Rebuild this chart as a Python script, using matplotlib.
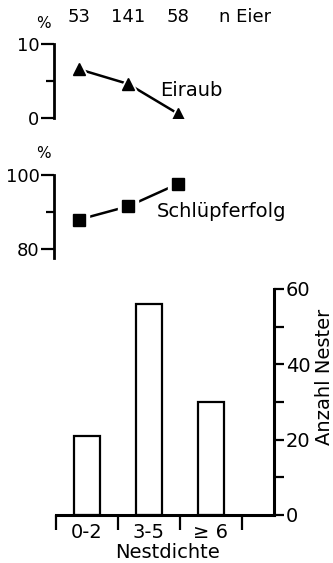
import matplotlib.pyplot as plt

# Daten
n_eier = ['53', '141', '58']
eiraub = [6.6, 4.6, 0.6]
schlupferfolg = [88.0, 91.6, 97.6]
nestdichte = ['0-2', '3-5', '≥ 6']
anzahl_nester = [21, 56, 30]

W, H = 333, 563
plt.rcParams['font.family'] = 'DejaVu Sans'
fig = plt.figure(figsize=(W / 100, H / 100), dpi=100)


def box(l, t, r, b):
    # Pixelkoordinaten -> Figurenanteile
    return [l / W, 1 - b / H, (r - l) / W, (b - t) / H]


def punkt_panel(ax, werte, marker, ylim, ticks, minor):
    pos = [1, 2, 3]
    ax.plot(pos, werte, color='k', lw=1.8, zorder=1)
    ax.plot(pos, werte, ls='none', marker=marker, ms=15, color='white', zorder=2)
    ax.plot(pos, werte, ls='none', marker=marker, ms=9, color='k', zorder=3)
    ax.set_xlim(0.5, 4.5)
    ax.set_ylim(*ylim)
    for s in ['top', 'right', 'bottom']:
        ax.spines[s].set_visible(False)
    ax.spines['left'].set_linewidth(2)
    ax.set_xticks([])
    ax.set_yticks(ticks)
    ax.set_yticks(minor, minor=True)
    ax.tick_params(axis='y', which='major', direction='out', length=9.5, width=1.6,
                   pad=1, labelsize=13)
    ax.tick_params(axis='y', which='minor', direction='out', length=6, width=1.6)
    ax.patch.set_visible(False)


# Eiraub
ax1 = fig.add_axes(box(54, 44, 252, 118))
punkt_panel(ax1, eiraub, '^', (0, 10), [0, 10], [5])
for i, t in enumerate(n_eier):
    fig.text((54 + (i + 0.5) * 49.5) / W, 1 - 17 / H, t, ha='center', va='center', fontsize=13)
fig.text(245 / W, 1 - 17 / H, 'n Eier', ha='center', va='center', fontsize=13)
fig.text(43 / W, 1 - 24 / H, '%', ha='center', va='center', fontsize=11)
fig.text(160 / W, 1 - 91 / H, 'Eiraub', ha='left', va='center', fontsize=14)

# Schlüpferfolg
ax2 = fig.add_axes(box(54, 175, 252, 258))
punkt_panel(ax2, schlupferfolg, 's', (77.7, 100), [80, 100], [90])
fig.text(43 / W, 1 - 153 / H, '%', ha='center', va='center', fontsize=11)
fig.text(157 / W, 1 - 211 / H, 'Schlüpferfolg', ha='left', va='center', fontsize=14)

# Anzahl Nester
ax3 = fig.add_axes(box(55.7, 289, 274, 515))
ax3.bar(range(3), anzahl_nester, width=0.42, color='white', edgecolor='k', linewidth=1.6)
ax3.set_xlim(-0.5, 3.02)
ax3.set_ylim(0, 60)
ax3.spines['top'].set_visible(False)
ax3.spines['left'].set_visible(False)
ax3.spines['right'].set_linewidth(2.2)
ax3.spines['bottom'].set_linewidth(2.2)
ax3.yaxis.tick_right()
ax3.set_yticks([0, 20, 40, 60])
ax3.set_yticks([10, 30, 50], minor=True)
ax3.tick_params(axis='y', which='both', direction='out', length=7.5, width=1.6,
                pad=1, labelsize=14)
ax3.set_xticks(range(3))
ax3.set_xticklabels(nestdichte)
ax3.set_xticks([-0.5, 0.5, 1.5, 2.5], minor=True)
ax3.tick_params(axis='x', which='major', length=0, pad=6, labelsize=14)
ax3.tick_params(axis='x', which='minor', direction='out', length=11, width=1.6)
ax3.set_xlabel('Nestdichte', fontsize=14)
ax3.xaxis.set_label_coords(0.51, -0.125)
fig.text(325 / W, 1 - 377 / H, 'Anzahl Nester', rotation=90, ha='center', va='center',
         fontsize=14)

fig.savefig('out.png', dpi=100)
